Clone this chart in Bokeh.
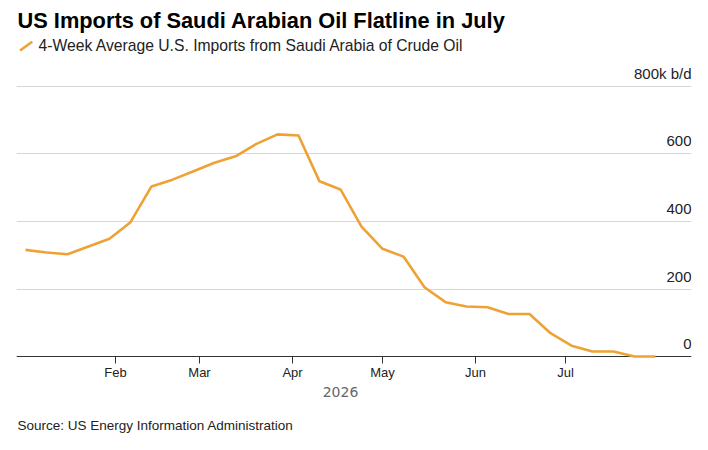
import pandas as pd
from bokeh.plotting import figure
from bokeh.models import (Range1d, FixedTicker, DatetimeTickFormatter, Label, Span,
                          ColumnDataSource)
from bokeh.core.properties import value
from bokeh.embed import file_html
from bokeh.resources import INLINE

# ---- data ----
week_dates = pd.date_range("2026-01-02", periods=31, freq="7D")
imports_kbd = [316, 308, 303, 326, 349, 398, 504, 524, 549, 574, 593, 630, 658, 655,
               519, 495, 385, 319, 296, 205, 161, 148, 146, 126, 126, 69, 32, 15, 15, 0, 0]
month_ticks = ["2026-02-01", "2026-03-01", "2026-04-01", "2026-05-01", "2026-06-01", "2026-07-01"]
y_ticks = [0, 200, 400, 600, 800]
y_tick_labels = ["0", "200", "400", "600", "800k b/d"]

title_text = "US Imports of Saudi Arabian Oil Flatline in July"
legend_text = "4-Week Average U.S. Imports from Saudi Arabia of Crude Oil"
source_text = "Source: US Energy Information Administration"
year_text = "2026"

ORANGE = "#eea236"
DARK = "#222222"
FONT = "Liberation Sans"

W, H = 692, 434
x_start = pd.Timestamp("2025-12-30")
x_end = pd.Timestamp("2026-08-12")

p = figure(width=W, height=H, frame_width=675, frame_height=434, x_axis_type="datetime",
           x_range=Range1d(x_start, x_end), y_range=Range1d(-231.1, 1054.8),
           min_border_left=16, min_border_right=1, min_border_top=0, min_border_bottom=0,
           output_backend="svg", toolbar_location=None, background_fill_color="white",
           border_fill_color="white", outline_line_color=None)

p.yaxis.visible = False
p.ygrid.ticker = FixedTicker(ticks=y_ticks)
p.ygrid.grid_line_color = "#d6d6d6"
p.ygrid.grid_line_width = 1
p.xgrid.visible = False

tick_ms = [pd.Timestamp(t).value / 1e6 for t in month_ticks]
xa = p.xaxis[0]
xa.fixed_location = 0
xa.ticker = FixedTicker(ticks=tick_ms)
fmt = "%b"
xa.formatter = DatetimeTickFormatter(milliseconds=fmt, seconds=fmt, minsec=fmt, minutes=fmt,
                                     hourmin=fmt, hours=fmt, days=fmt, months=fmt, years=fmt)
xa.axis_line_color = None
xa.major_tick_line_color = "#333333"
xa.major_tick_out = 7
xa.major_tick_in = 0
xa.minor_tick_line_color = None
xa.major_label_standoff = 1
xa.major_label_text_font = FONT
xa.major_label_text_font_size = "13px"
xa.major_label_text_color = DARK

p.add_layout(Span(location=0, dimension="width", line_color="#333333", line_width=1,
                  level="underlay"))

src = ColumnDataSource(dict(x=week_dates, y=imports_kbd))
p.line("x", "y", source=src, line_color=ORANGE, line_width=2.6, line_join="round")

# y tick labels inside the plot, right aligned above gridlines
lab_src = ColumnDataSource(dict(x=[x_end] * len(y_ticks), y=y_ticks, t=y_tick_labels))
p.text("x", "y", text="t", source=lab_src, text_align="right", text_baseline="alphabetic",
       y_offset=-12.5, text_font=value(FONT), text_font_size="15px", text_color=DARK)

# texts around the chart (screen units, relative to the frame's bottom-left corner)
p.add_layout(Label(x=1, y=H - 19.5, x_units="screen", y_units="screen", text=title_text,
                   text_font=FONT, text_font_size="21.8px", text_font_style="bold",
                   text_color="#000000", text_baseline="alphabetic"))
p.add_layout(Label(x=9, y=H - 44.5, x_units="screen", y_units="screen", text="\u2014",
                   angle=0.63, text_font=FONT, text_font_size="14px", text_font_style="bold",
                   text_color=ORANGE, text_outline_color=ORANGE,
                   text_align="center", text_baseline="middle"))
p.add_layout(Label(x=22, y=H - 45, x_units="screen", y_units="screen", text=legend_text,
                   text_font=FONT, text_font_size="15.7px",
                   text_color=DARK, text_baseline="alphabetic"))
mid_tick = (tick_ms[0] + tick_ms[-1]) / 2
p.add_layout(Label(x=mid_tick, y=H - 391.7, x_units="data", y_units="screen", text=year_text,
                   text_font="DejaVu Sans", text_font_size="14px",
                   text_color="#666666", text_align="center", text_baseline="alphabetic"))
p.add_layout(Label(x=1, y=H - 424.5, x_units="screen", y_units="screen", text=source_text,
                   text_font=FONT, text_font_size="13.5px",
                   text_color=DARK, text_baseline="alphabetic"))

open("out.html", "w").write(file_html(p, INLINE))
